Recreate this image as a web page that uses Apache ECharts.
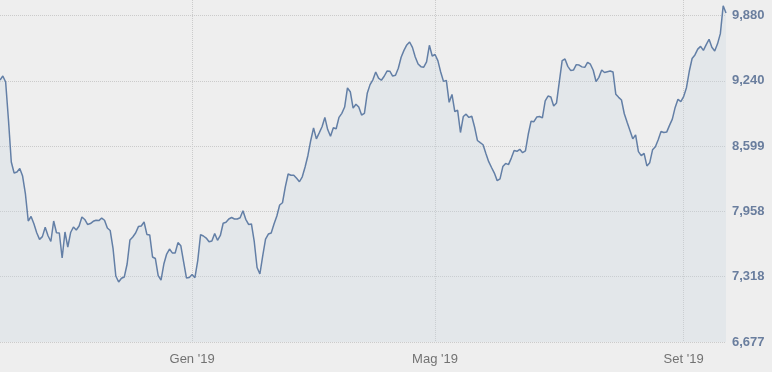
<!DOCTYPE html>
<html>
<head>
<meta charset="utf-8">
<script src="https://cdn.jsdelivr.net/npm/echarts@6/dist/echarts.min.js"></script>
<style>
html,body{margin:0;padding:0;background:#eeeeee;}
#chart{width:772px;height:372px;}
</style>
</head>
<body>
<div id="chart"></div>
<script>
// Daily closing values, one per weekday starting 27 Sep 2018
const startDate = '2018-09-27';
const values = [
9247,9286,9228,8855,8443,8335,8345,8379,8305,8129,
7864,7908,7837,7749,7684,7711,7802,7719,7663,7864,
7749,7746,7501,7756,7609,7751,7805,7776,7815,7903,
7879,7830,7839,7861,7872,7868,7893,7871,7795,7771,
7599,7324,7266,7302,7315,7442,7678,7707,7746,7809,
7815,7854,7732,7727,7511,7496,7329,7285,7442,7540,
7589,7551,7550,7652,7622,7462,7305,7310,7339,7308,
7476,7730,7717,7697,7661,7668,7741,7675,7722,7842,
7851,7884,7898,7884,7884,7896,7965,7881,7830,7835,
7663,7408,7344,7523,7687,7736,7746,7835,7913,8021,
8043,8198,8325,8313,8313,8283,8249,8298,8394,8507,
8654,8778,8670,8729,8789,8880,8761,8696,8779,8769,
8881,8920,8982,9169,9132,8971,9009,8982,8904,8920,
9117,9202,9249,9326,9266,9245,9284,9335,9334,9286,
9293,9363,9470,9538,9591,9620,9567,9473,9404,9378,
9373,9424,9588,9483,9497,9437,9326,9234,9243,9028,
9105,8938,8950,8732,8889,8912,8880,8892,8786,8654,
8632,8612,8527,8446,8389,8334,8260,8278,8398,8429,
8417,8481,8555,8548,8567,8534,8551,8715,8843,8838,
8884,8889,8876,9043,9090,9081,8992,9022,9232,9438,
9453,9381,9341,9345,9398,9394,9376,9371,9421,9402,
9343,9232,9273,9345,9321,9329,9336,9326,9107,9077,
9051,8916,8833,8751,8670,8709,8545,8505,8527,8404,
8436,8562,8592,8662,8742,8732,8736,8802,8863,8978,
9058,9035,9084,9172,9333,9458,9493,9550,9577,9538,
9594,9647,9568,9532,9602,9702,9975,9905
];
const yTickValues = [6677, 7318, 7958, 8599, 9240, 9880];
const yMin = 6677;
const yMax = 10032;
const monthNames = ['Gen','Feb','Mar','Apr','Mag','Giu','Lug','Ago','Set','Ott','Nov','Dic'];
const labelMonths = [0, 4, 8]; // Gen, Mag, Set

// build weekday categories
const dates = [];
{
  const d = new Date(startDate + 'T00:00:00Z');
  while (dates.length < values.length) {
    const wd = d.getUTCDay();
    if (wd !== 0 && wd !== 6) dates.push(d.toISOString().slice(0, 10));
    d.setUTCDate(d.getUTCDate() + 1);
  }
}
function isMonthStart(idx) {
  if (idx === 0) return false;
  const m = +dates[idx].slice(5, 7) - 1;
  const pm = +dates[idx - 1].slice(5, 7) - 1;
  return m !== pm && labelMonths.indexOf(m) >= 0;
}
function fmtDate(v) {
  const m = +v.slice(5, 7) - 1;
  return monthNames[m] + " '" + v.slice(2, 4);
}

const chart = echarts.init(document.getElementById('chart'), null, {renderer: 'canvas'});
const gridLine = {color: '#cbcbcb', width: 1, type: [1, 1]};
chart.setOption({
  backgroundColor: '#eeeeee',
  animation: false,
  grid: {left: 0, right: 46, top: 0, bottom: 30, containLabel: false},
  xAxis: {
    type: 'category',
    data: dates,
    boundaryGap: false,
    axisLine: {show: false},
    axisTick: {show: false},
    axisLabel: {
      interval: (idx) => isMonthStart(idx),
      formatter: (v) => fmtDate(v),
      color: '#727272',
      fontFamily: 'Liberation Sans, Arial, sans-serif',
      fontSize: 13,
      margin: 11
    },
    splitLine: {show: true, interval: (idx) => isMonthStart(idx), lineStyle: gridLine}
  },
  yAxis: {
    type: 'value',
    position: 'right',
    min: yMin,
    max: yMax,
    interval: (yTickValues[yTickValues.length - 1] - yTickValues[0]) / (yTickValues.length - 1),
    axisLine: {show: false},
    axisTick: {show: false},
    axisLabel: {
      margin: 6,
      color: '#6a7e9e',
      fontWeight: 'bold',
      fontFamily: 'Liberation Sans, Arial, sans-serif',
      fontSize: 13,
      formatter: (v) => {
        const t = yTickValues.find(x => Math.abs(x - v) < 3);
        return t === undefined ? '' : t.toLocaleString('en-US');
      }
    },
    splitLine: {show: true, showMaxLine: false, lineStyle: gridLine}
  },
  series: [{
    type: 'line',
    data: values,
    showSymbol: false,
    symbol: 'none',
    lineStyle: {color: '#637fa6', width: 1.5},
    areaStyle: {color: 'rgba(200,212,225,0.38)', origin: 'start'}
  }]
});
</script>
</body>
</html>
